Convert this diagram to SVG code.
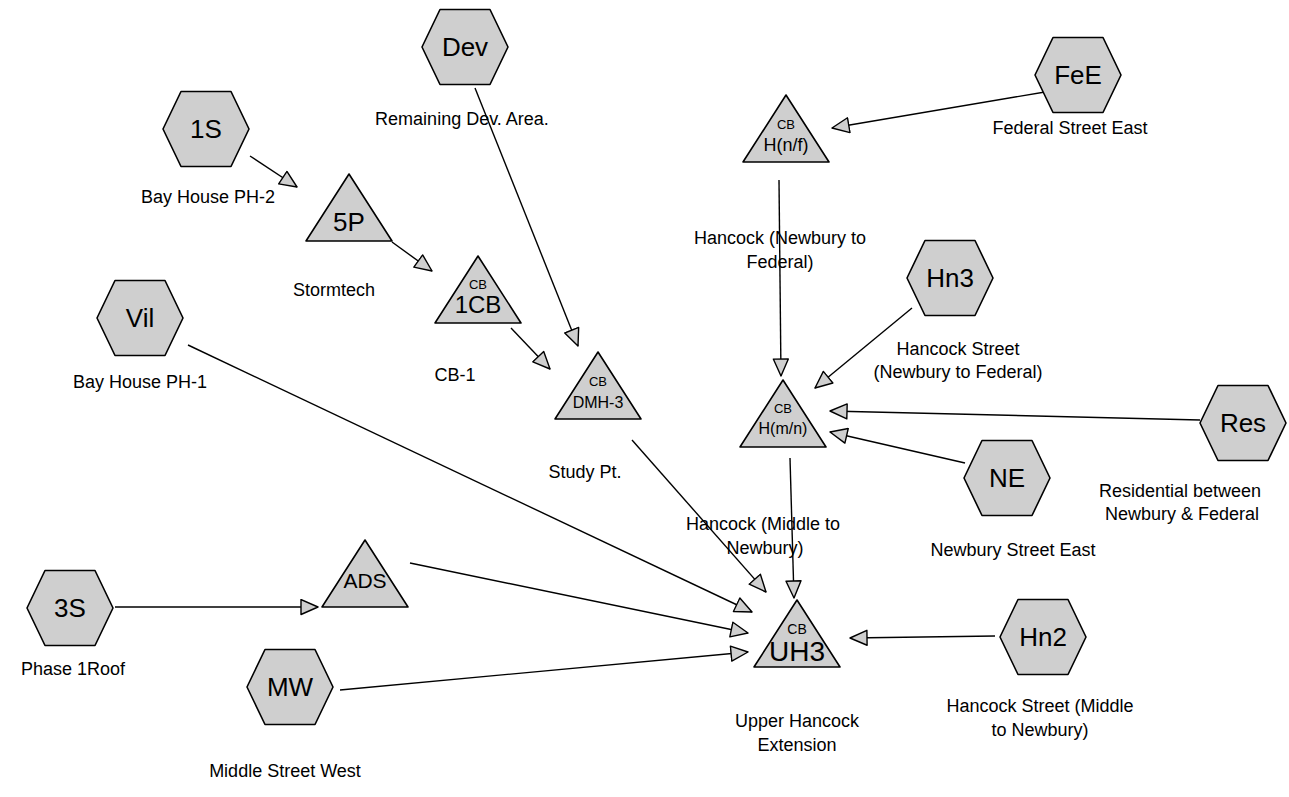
<svg xmlns="http://www.w3.org/2000/svg" width="1289" height="797" viewBox="0 0 1289 797">
<style>
.bg{fill:#ffffff}
.hex,.tri{fill:#cfcfcf;stroke:#000;stroke-width:1.6;stroke-linejoin:round}
.e{stroke:#000;stroke-width:1.4;fill:none;marker-end:url(#ah)}
.nt{font-family:"Liberation Sans",Arial,sans-serif;fill:#000;text-anchor:middle}
.lb{font-family:"Liberation Sans",Arial,sans-serif;font-size:18px;fill:#000;text-anchor:middle}
</style>
<defs>
<path id="hx" d="M-43,0 L-25,-37.5 L25,-37.5 L43,0 L25,37.5 L-25,37.5 Z"/>
<path id="tr" d="M0,0 L43,67 L-43,67 Z"/>
<marker id="ah" viewBox="0 0 19 17" refX="18" refY="8.5" markerWidth="19" markerHeight="17" markerUnits="userSpaceOnUse" orient="auto">
<path d="M1,1 L18,8.5 L1,16 Z" fill="#cfcfcf" stroke="#000" stroke-width="1.4" stroke-linejoin="round"/>
</marker>
</defs>
<rect class="bg" x="0" y="0" width="1289" height="797"/>
<g id="connectors">
<line class="e" x1="250" y1="156" x2="297" y2="187"/>
<line class="e" x1="392" y1="242" x2="432" y2="271"/>
<line class="e" x1="511" y1="328" x2="550" y2="369"/>
<line class="e" x1="475" y1="88" x2="578" y2="346"/>
<line class="e" x1="632" y1="440" x2="766" y2="592"/>
<line class="e" x1="188" y1="345" x2="752" y2="612"/>
<line class="e" x1="410" y1="563" x2="748" y2="633"/>
<line class="e" x1="340" y1="690" x2="748" y2="652"/>
<line class="e" x1="115" y1="607" x2="318" y2="607"/>
<line class="e" x1="995" y1="636" x2="850" y2="638"/>
<line class="e" x1="790" y1="458" x2="794" y2="598"/>
<line class="e" x1="779" y1="180" x2="781" y2="376"/>
<line class="e" x1="1045" y1="92" x2="832" y2="128"/>
<line class="e" x1="912" y1="308" x2="815" y2="388"/>
<line class="e" x1="1200" y1="420" x2="830" y2="411"/>
<line class="e" x1="965" y1="463" x2="830" y2="432"/>
</g>
<g id="node-Dev"><use href="#hx" class="hex" x="465" y="47"/><text class="nt" x="465" y="56" font-size="26">Dev</text><text class="lb" x="462" y="125">Remaining Dev. Area.</text></g>
<g id="node-1S"><use href="#hx" class="hex" x="206" y="129"/><text class="nt" x="206" y="138" font-size="26">1S</text><text class="lb" x="208" y="203">Bay House PH-2</text></g>
<g id="node-FeE"><use href="#hx" class="hex" x="1078" y="75"/><text class="nt" x="1078" y="84" font-size="26">FeE</text><text class="lb" x="1070" y="134">Federal Street East</text></g>
<g id="node-Hn3"><use href="#hx" class="hex" x="950" y="278"/><text class="nt" x="950" y="287" font-size="26">Hn3</text><text class="lb" x="958" y="355">Hancock Street</text><text class="lb" x="958" y="378">(Newbury to Federal)</text></g>
<g id="node-Vil"><use href="#hx" class="hex" x="140" y="318"/><text class="nt" x="140" y="327" font-size="26">Vil</text><text class="lb" x="140" y="388">Bay House PH-1</text></g>
<g id="node-Res"><use href="#hx" class="hex" x="1243" y="423"/><text class="nt" x="1243" y="432" font-size="26">Res</text><text class="lb" x="1180" y="497">Residential between</text><text class="lb" x="1182" y="520">Newbury &amp; Federal</text></g>
<g id="node-NE"><use href="#hx" class="hex" x="1007" y="478"/><text class="nt" x="1007" y="487" font-size="26">NE</text><text class="lb" x="1013" y="556">Newbury Street East</text></g>
<g id="node-3S"><use href="#hx" class="hex" x="70" y="608"/><text class="nt" x="70" y="617" font-size="26">3S</text><text class="lb" x="73" y="675">Phase 1Roof</text></g>
<g id="node-Hn2"><use href="#hx" class="hex" x="1043" y="637"/><text class="nt" x="1043" y="646" font-size="26">Hn2</text><text class="lb" x="1040" y="712">Hancock Street (Middle</text><text class="lb" x="1040" y="736">to Newbury)</text></g>
<g id="node-MW"><use href="#hx" class="hex" x="290" y="687"/><text class="nt" x="290" y="696" font-size="26">MW</text><text class="lb" x="285" y="777">Middle Street West</text></g>
<g id="node-5P"><use href="#tr" class="tri" x="349" y="174"/><text class="nt" x="349" y="231" font-size="26">5P</text><text class="lb" x="334" y="296">Stormtech</text></g>
<g id="node-1CB"><use href="#tr" class="tri" x="478" y="256"/><text class="nt" x="478" y="289" font-size="13">CB</text><text class="nt" x="478" y="313" font-size="24">1CB</text><text class="lb" x="455" y="381">CB-1</text></g>
<g id="node-DMH-3"><use href="#tr" class="tri" x="598" y="352"/><text class="nt" x="598" y="386" font-size="13">CB</text><text class="nt" x="598" y="408" font-size="16">DMH-3</text><text class="lb" x="585" y="478">Study Pt.</text></g>
<g id="node-Hnf"><use href="#tr" class="tri" x="786" y="95"/><text class="nt" x="786" y="129" font-size="13">CB</text><text class="nt" x="786" y="151" font-size="18">H(n/f)</text><text class="lb" x="780" y="244">Hancock (Newbury to</text><text class="lb" x="780" y="268">Federal)</text></g>
<g id="node-Hmn"><use href="#tr" class="tri" x="783" y="380"/><text class="nt" x="783" y="413" font-size="13">CB</text><text class="nt" x="783" y="434" font-size="16">H(m/n)</text><text class="lb" x="763" y="530">Hancock (Middle to</text><text class="lb" x="765" y="554">Newbury)</text></g>
<g id="node-UH3"><use href="#tr" class="tri" x="797" y="600"/><text class="nt" x="797" y="634" font-size="14">CB</text><text class="nt" x="797" y="661" font-size="28">UH3</text><text class="lb" x="797" y="727">Upper Hancock</text><text class="lb" x="797" y="751">Extension</text></g>
<g id="node-ADS"><use href="#tr" class="tri" x="365" y="540"/><text class="nt" x="365" y="588" font-size="21">ADS</text></g>
</svg>
